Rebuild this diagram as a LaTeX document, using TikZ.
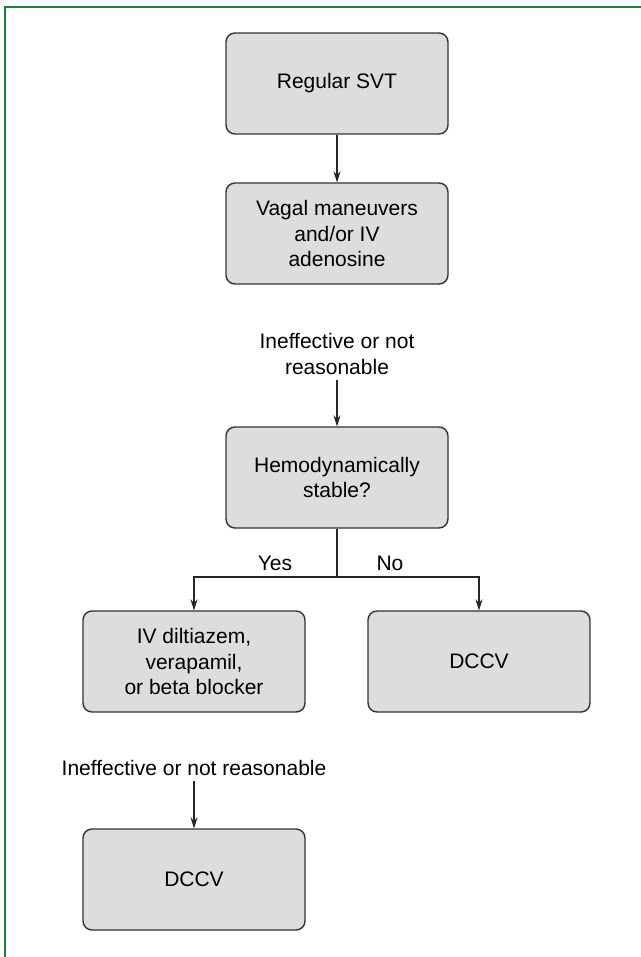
\documentclass[tikz,border=0pt]{standalone}
\usepackage{fontspec}
\setmainfont{Liberation Sans}
\usepackage{xcolor}
\definecolor{boxgray}{RGB}{220,221,223}
\definecolor{framegreen}{RGB}{30,125,65}
\usetikzlibrary{arrows.meta}

\begin{document}
\begin{tikzpicture}[x=0.5pt, y=-0.5pt,
    font=\fontsize{10.5}{12.9}\selectfont,
    box/.style={draw=black!80, line width=0.7pt, fill=boxgray, rounded corners=4.5pt, align=center, minimum width=111pt, minimum height=50.5pt, inner sep=0pt},
    lbl/.style={align=center, inner xsep=0pt, inner ysep=2.5pt, text depth=0pt},
    arr/.style={-{Stealth[length=5.5pt, width=3.6pt]}, line width=0.6pt, black!85}]
            \useasboundingbox (0,0) rectangle (641,957);

            % Frame (top and left edge only)
            \draw[framegreen, line width=0.8pt] (5,970) -- (5,7) -- (660,7);

            % Start
            \node[box] (svt) at (337,83.5) {Regular SVT};
            \node[box] (vagal) at (337,233.5) {Vagal maneuvers\\and/or IV\\adenosine};
            \draw[arr] (svt) -- (vagal);

            % Ineffective -> stability check
            \node[lbl, anchor=south] (ineffA) at (337,380) {Ineffective or not\\reasonable};
            \node[box] (hemo) at (337,477.5) {Hemodynamically\\stable?};
            \draw[arr] (ineffA) -- (hemo);

            % Split yes / no
            \coordinate (split) at (337,577);
            \node (yes) at (275,563) {Yes};
            \node (no) at (390,563) {No};
            \node[box] (dilt) at (194,661.5) {IV diltiazem,\\verapamil,\\or beta blocker};
            \node[box] (dccvA) at (479,661.5) {DCCV};
            \draw[line width=0.6pt, black!85] (hemo) -- (split);
            \draw[arr] (split) -| (dilt);
            \draw[arr] (split) -| (dccvA);

            % Last step
            \node[lbl, anchor=south] (ineffB) at (194,781) {Ineffective or not reasonable};
            \node[box] (dccvB) at (194,879.5) {DCCV};
            \draw[arr] (ineffB) -- (dccvB);
        \end{tikzpicture}
\end{document}
